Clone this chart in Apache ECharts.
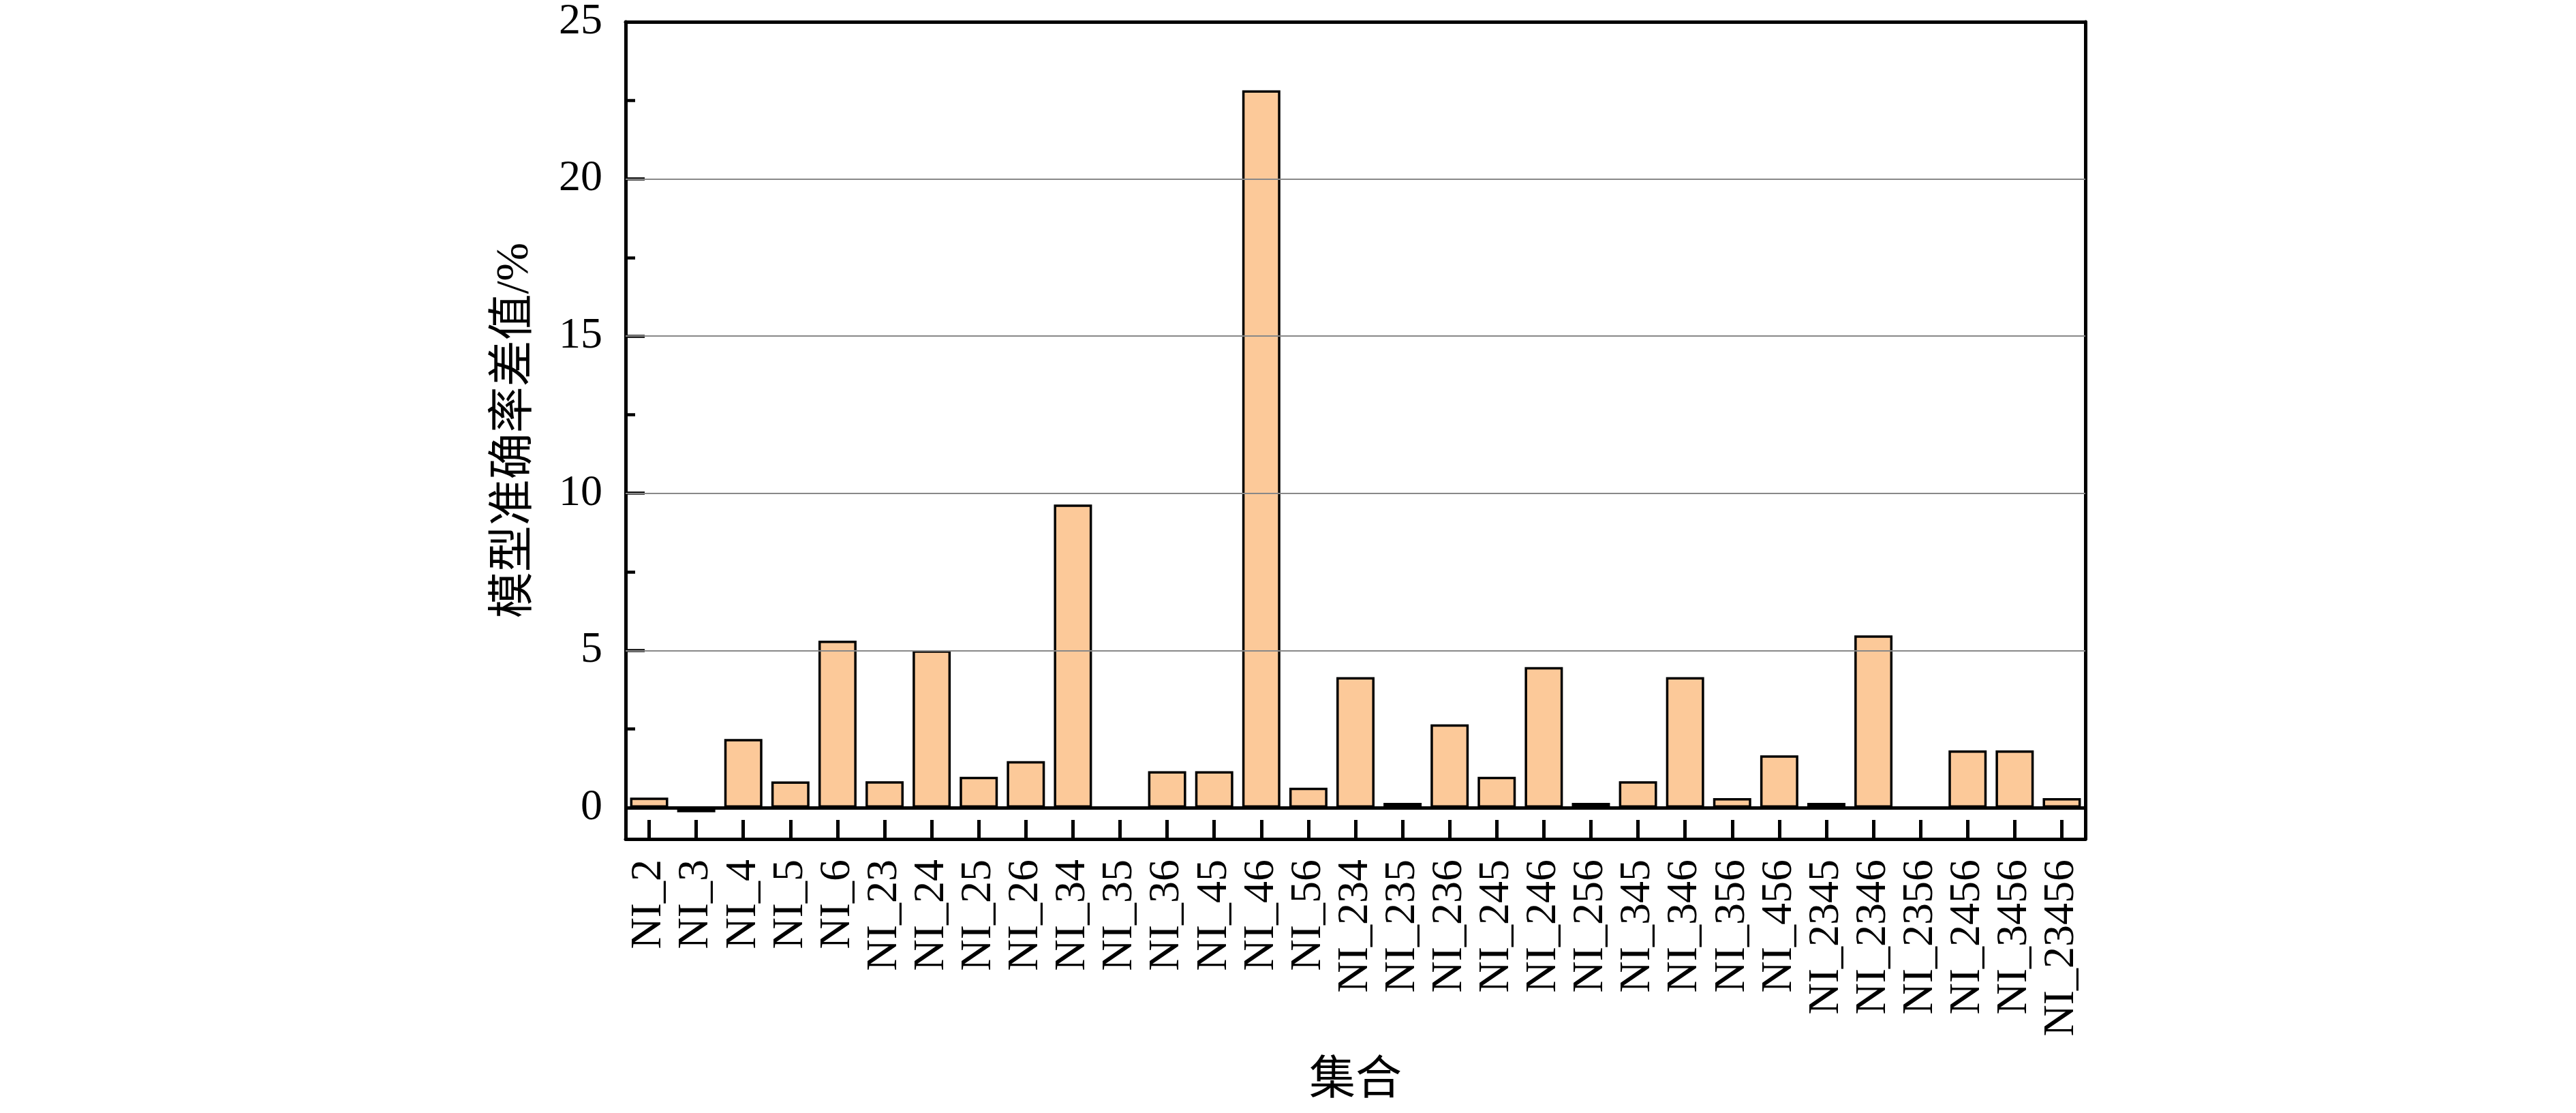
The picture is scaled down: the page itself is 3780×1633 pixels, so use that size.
<!DOCTYPE html>
<html lang="zh">
<head>
    <meta charset="UTF-8">
    <title>模型准确率差值</title>
    <script src="https://cdn.jsdelivr.net/npm/echarts@6/dist/echarts.min.js"></script>
    <style>
        html, body { margin: 0; padding: 0; background: #fff; }
        #main { width: 3780px; height: 1633px; }
    </style>
</head>
<body>
<div id="main"></div>
<script type="text/javascript">
    // 类别
    var categories = ['NI_2', 'NI_3', 'NI_4', 'NI_5', 'NI_6', 'NI_23', 'NI_24', 'NI_25', 'NI_26', 'NI_34',
        'NI_35', 'NI_36', 'NI_45', 'NI_46', 'NI_56', 'NI_234', 'NI_235', 'NI_236', 'NI_245', 'NI_246',
        'NI_256', 'NI_345', 'NI_346', 'NI_356', 'NI_456', 'NI_2345', 'NI_2346', 'NI_2356', 'NI_2456',
        'NI_3456', 'NI_23456'];
    // 差值 (%)
    var diffValues = [0.32, -0.15, 2.18, 0.83, 5.31, 0.84, 5.0, 0.98, 1.48, 9.64,
        0, 1.16, 1.16, 22.82, 0.63, 4.15, 0.15, 2.65, 0.98, 4.47,
        0.15, 0.84, 4.15, 0.3, 1.66, 0.15, 5.48, 0, 1.82,
        1.82, 0.3];
    // 刻度
    var majorTicks = [0, 5, 10, 15, 20, 25];
    var minorTicks = [2.5, 7.5, 12.5, 17.5, 22.5];
    var gridValues = [5, 10, 15, 20];

    var serif = "'Liberation Serif', 'Times New Roman', 'Noto Sans CJK SC', serif";
    var black = '#000';

    var chart = echarts.init(document.getElementById('main'));
    chart.setOption({
        animation: false,
        backgroundColor: '#fff',
        grid: { left: 918, right: 720, top: 28, bottom: 402, containLabel: false },
        xAxis: [{
            type: 'category',
            data: categories,
            position: 'bottom',
            boundaryGap: true,
            name: '集合',
            nameLocation: 'middle',
            nameGap: 322,
            nameTextStyle: { fontFamily: serif, fontSize: 68, color: black },
            axisLine: { show: true, onZero: false, lineStyle: { color: black, width: 5 } },
            axisTick: { show: true, inside: true, interval: 0, alignWithLabel: true, length: 28, lineStyle: { color: black, width: 5 } },
            axisLabel: { interval: 0, rotate: 90, margin: 30, fontFamily: serif, fontSize: 64, color: black },
            splitLine: { show: false }
        }, {
            // 顶部边框
            type: 'category',
            data: categories,
            position: 'top',
            axisLine: { show: true, onZero: false, lineStyle: { color: black, width: 5 } },
            axisTick: { show: false },
            axisLabel: { show: false }
        }],
        yAxis: [{
            type: 'value',
            min: -1,
            max: 25,
            position: 'left',
            name: '模型准确率差值/%',
            nameLocation: 'middle',
            nameGap: 128,
            nameTextStyle: { fontFamily: serif, fontSize: 68, color: black },
            axisLine: { show: true, onZero: false, lineStyle: { color: black, width: 5 } },
            axisTick: { show: true, inside: true, length: 28, customValues: majorTicks, lineStyle: { color: black, width: 4.5 } },
            axisLabel: { margin: 34, customValues: majorTicks, fontFamily: serif, fontSize: 64, color: black },
            splitLine: { show: false }
        }, {
            // 次刻度
            type: 'value',
            min: -1,
            max: 25,
            position: 'left',
            offset: 0,
            axisLine: { show: false },
            axisTick: { show: true, inside: true, length: 14, customValues: minorTicks, lineStyle: { color: black, width: 4.5 } },
            axisLabel: { show: false },
            splitLine: { show: false }
        }, {
            // 右侧边框
            type: 'value',
            min: -1,
            max: 25,
            position: 'right',
            axisLine: { show: true, onZero: false, lineStyle: { color: black, width: 5 } },
            axisTick: { show: false },
            axisLabel: { show: false },
            splitLine: { show: false }
        }],
        series: [{
            // 网格线 (位于柱子下方)
            name: 'grid',
            type: 'line',
            data: [],
            z: 1,
            silent: true,
            markLine: {
                silent: true,
                symbol: 'none',
                label: { show: false },
                lineStyle: { color: '#888', width: 2, type: 'solid' },
                data: gridValues.map(function (v) { return { yAxis: v }; })
            }
        }, {
            name: '差值',
            type: 'bar',
            data: diffValues,
            barCategoryGap: '19%',
            z: 2,
            itemStyle: { color: '#fcc999', borderColor: black, borderWidth: 3.5 }
        }, {
            // 零线
            name: 'zero',
            type: 'line',
            data: [],
            z: 3,
            silent: true,
            markLine: {
                silent: true,
                symbol: 'none',
                label: { show: false },
                lineStyle: { color: black, width: 5, type: 'solid' },
                data: [{ yAxis: 0 }]
            }
        }]
    });
</script>
</body>
</html>
